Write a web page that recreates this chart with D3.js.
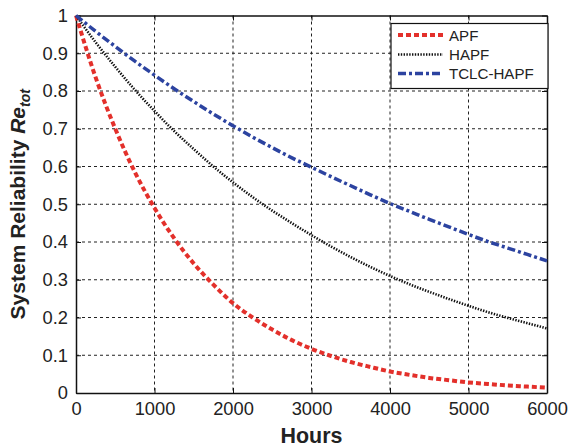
<!DOCTYPE html>
<html><head><meta charset="utf-8">
<script src="https://cdn.jsdelivr.net/npm/d3@7"></script>
<style>body{margin:0;background:#fff}svg{display:block}text{font-family:"Liberation Sans",Arial,sans-serif}</style>
</head><body>
<svg id="c" width="574" height="447"></svg>
<script>
const hours = [0,250,500,750,1000,1250,1500,1750,2000,2250,2500,2750,3000,3250,3500,3750,4000,4250,4500,4750,5000,5250,5500,5750,6000];
const apf = [1,0.836,0.70,0.585,0.49,0.41,0.343,0.287,0.238,0.20,0.168,0.14,0.117,0.098,0.082,0.069,0.057,0.048,0.040,0.034,0.028,0.024,0.020,0.017,0.014];
const hapf = [1,0.929,0.864,0.803,0.747,0.694,0.646,0.600,0.558,0.519,0.483,0.450,0.418,0.388,0.360,0.334,0.310,0.288,0.268,0.249,0.231,0.214,0.199,0.185,0.171];
const tclc = [1,0.958,0.918,0.879,0.842,0.806,0.772,0.739,0.708,0.678,0.650,0.623,0.598,0.573,0.549,0.525,0.502,0.481,0.460,0.440,0.420,0.401,0.384,0.367,0.350];
const seriesNames = ["APF","HAPF","TCLC-HAPF"];
const xTicks = [0,1000,2000,3000,4000,5000,6000];
const yTicks = [0,0.1,0.2,0.3,0.4,0.5,0.6,0.7,0.8,0.9,1];

const svg = d3.select("#c");
const L=76,R=547,T=15.5,B=393;
const x = d3.scaleLinear().domain([0,6000]).range([L,R]);
const y = d3.scaleLinear().domain([0,1]).range([B,T]);

// grid
const g = svg.append("g");
g.selectAll(".gx").data(xTicks.slice(1,-1)).join("line")
 .attr("x1",d=>x(d)).attr("x2",d=>x(d)).attr("y1",T).attr("y2",B)
 .attr("stroke","#222").attr("stroke-width",1).attr("stroke-dasharray","3,3");
g.selectAll(".gy").data(yTicks.slice(1,-1)).join("line")
 .attr("y1",d=>y(d)).attr("y2",d=>y(d)).attr("x1",L).attr("x2",R)
 .attr("stroke","#222").attr("stroke-width",1).attr("stroke-dasharray","3,3");

// axes
const fmt = d=> d===0?"0":(d===1?"1":d3.format(".1f")(d));
const ax = svg.append("g").attr("transform",`translate(0,${B})`)
 .call(d3.axisBottom(x).tickValues(xTicks).tickFormat(d3.format("d")).tickSizeInner(-5).tickSizeOuter(0).tickPadding(9));
const ay = svg.append("g").attr("transform",`translate(${L},0)`)
 .call(d3.axisLeft(y).tickValues(yTicks).tickFormat(fmt).tickSizeInner(-5).tickSizeOuter(0).tickPadding(8));
const axT = svg.append("g").attr("transform",`translate(0,${T})`)
 .call(d3.axisTop(x).tickValues(xTicks).tickFormat("").tickSizeInner(-5).tickSizeOuter(0));
const ayR = svg.append("g").attr("transform",`translate(${R},0)`)
 .call(d3.axisRight(y).tickValues(yTicks).tickFormat("").tickSizeInner(-5).tickSizeOuter(0));
[ax,ay,axT,ayR].forEach(a=>{
  a.selectAll("path").attr("stroke","#111").attr("stroke-width",1.5);
  a.selectAll("line").attr("stroke","#111").attr("stroke-width",1);
  a.selectAll("text").attr("font-size",18.3).attr("fill","#222").attr("font-family","Liberation Sans, Arial, sans-serif");
});

// lines
const styles = [
 {data:apf,color:"#e3302b",w:4,dash:"5,3"},
 {data:hapf,color:"#111",w:2.6,dash:"1.4,1.4"},
 {data:tclc,color:"#2c43a0",w:3.5,dash:"8,3,3,3"}
];
const line = d3.line().x((d,i)=>x(hours[i])).y(d=>y(d)).curve(d3.curveMonotoneX);
styles.forEach(s=>{
  svg.append("path").datum(s.data).attr("d",line).attr("fill","none")
   .attr("stroke",s.color).attr("stroke-width",s.w).attr("stroke-dasharray",s.dash);
});

// legend
const lg = svg.append("g");
lg.append("rect").attr("x",391).attr("y",23.5).attr("width",157).attr("height",65)
 .attr("fill","#fff").attr("stroke","#111").attr("stroke-width",1.2);
const rows=[35,54.5,73.5];
styles.forEach((s,i)=>{
  lg.append("line").attr("x1",398).attr("x2",443).attr("y1",rows[i]).attr("y2",rows[i])
   .attr("stroke",s.color).attr("stroke-width",s.w).attr("stroke-dasharray",s.dash);
  lg.append("text").attr("x",449).attr("y",rows[i]+5.5).attr("font-size",15.1).attr("fill","#222").text(seriesNames[i]);
});

// axis labels
svg.append("text").attr("x",(L+R)/2).attr("y",443).attr("text-anchor","middle")
 .attr("font-size",21.4).attr("font-weight","bold").attr("fill","#222").text("Hours");
const yl = svg.append("text").attr("transform",`translate(25,${(T+B)/2}) rotate(-90)`)
 .attr("text-anchor","middle").attr("font-size",21).attr("font-weight","bold").attr("fill","#222");
yl.append("tspan").text("System Reliability  ");
yl.append("tspan").attr("font-style","italic").text("Re");
yl.append("tspan").attr("font-style","italic").attr("font-size",14).attr("dy",5).text("tot");
</script>
</body></html>
